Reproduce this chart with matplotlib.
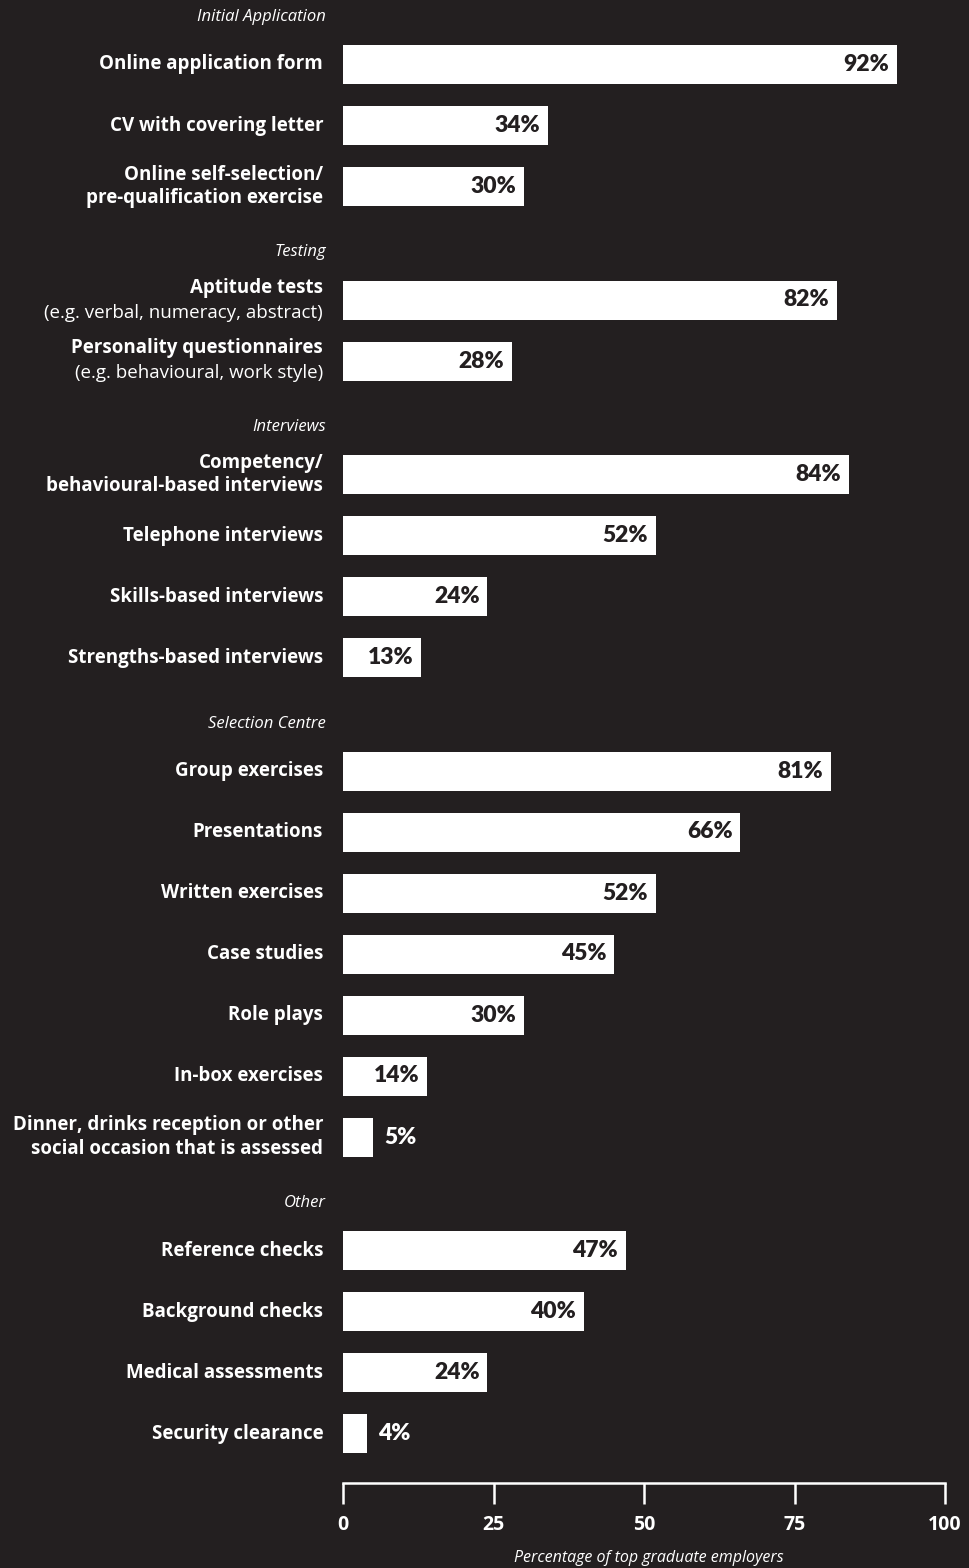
# Selection methods used by top graduate employers - horizontal bar chart
import matplotlib.pyplot as plt

# Sections and how many rows each one holds
sections = ["Initial Application", "Testing", "Interviews", "Selection Centre", "Other"]
section_sizes = [3, 2, 4, 7, 4]

# Row labels (bold) and optional second line in regular weight
categories = [
    "Online application form",
    "CV with covering letter",
    "Online self-selection/\npre-qualification exercise",
    "Aptitude tests",
    "Personality questionnaires",
    "Competency/\nbehavioural-based interviews",
    "Telephone interviews",
    "Skills-based interviews",
    "Strengths-based interviews",
    "Group exercises",
    "Presentations",
    "Written exercises",
    "Case studies",
    "Role plays",
    "In-box exercises",
    "Dinner, drinks reception or other\nsocial occasion that is assessed",
    "Reference checks",
    "Background checks",
    "Medical assessments",
    "Security clearance",
]
notes = {
    "Aptitude tests": "(e.g. verbal, numeracy, abstract)",
    "Personality questionnaires": "(e.g. behavioural, work style)",
}
values = [92, 34, 30, 82, 28, 84, 52, 24, 13, 81, 66, 52, 45, 30, 14, 5, 47, 40, 24, 4]

xticks = [0, 25, 50, 75, 100]
xlabel = "Percentage of top graduate employers"

bg = "#231f20"
fg = "white"
font = "Open Sans"
num_font = "Lato"

fig = plt.figure(figsize=(9.69, 15.68), dpi=100, facecolor=bg)
ax = fig.add_axes([343 / 969, 85 / 1568, 602 / 969, 1483 / 1568])
ax.set_facecolor(bg)
ax.set_xlim(0, 100)
ax.set_ylim(1483, 0)

# work out vertical positions (pixels from the top)
header_y = []
bar_y = []
y = 17
for size in section_sizes:
    header_y.append(y)
    y += 47.5
    for i in range(size):
        bar_y.append(y)
        y += 61
    y += 5

ax.barh(bar_y, values, height=39, color="white", linewidth=0)

for name, hy in zip(sections, header_y):
    ax.text(-2.8, hy, name, ha="right", va="center", fontsize=12,
            style="italic", color=fg, family=font)

for label, by, v in zip(categories, bar_y, values):
    if label in notes:
        ax.text(-3.3, by - 12.5, label, ha="right", va="center", fontsize=13.5,
                fontweight="bold", color=fg, family=font)
        ax.text(-3.3, by + 12.5, notes[label], ha="right", va="center", fontsize=13.5,
                color=fg, family=font)
    else:
        ax.text(-3.3, by, label, ha="right", va="center", fontsize=13.5,
                fontweight="bold", color=fg, family=font, linespacing=1.22)
    if v >= 10:
        ax.text(v - 1.3, by, f"{v}%", ha="right", va="center", fontsize=16.5,
                fontweight="heavy", color=bg, family=num_font)
    else:
        ax.text(v + 1.9, by, f"{v}%", ha="left", va="center", fontsize=16.5,
                fontweight="heavy", color=fg, family=num_font)

# bracket-style x axis
for s in ["top", "left", "right"]:
    ax.spines[s].set_visible(False)
ax.spines["bottom"].set_color(fg)
ax.spines["bottom"].set_linewidth(1.8)
ax.set_yticks([])
ax.set_xticks(xticks)
ax.set_xticklabels([str(t) for t in xticks])
ax.tick_params(axis="x", direction="out", length=15, width=1.8, colors=fg,
               pad=8, labelsize=14)
for lbl in ax.get_xticklabels():
    lbl.set_fontweight("bold")
    lbl.set_family(font)

ax.text(50.8, 1558, xlabel, ha="center", va="center", fontsize=11.5,
        style="italic", color=fg, family=font)

fig.savefig("out.png", dpi=100, facecolor=bg)
